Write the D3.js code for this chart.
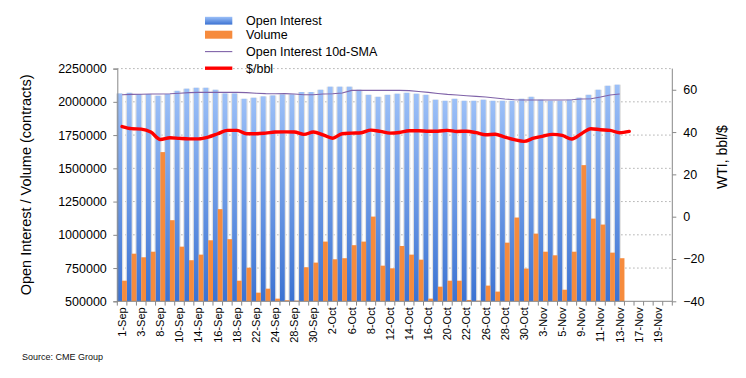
<!DOCTYPE html>
<html>
<head>
<meta charset="utf-8">
<script src="https://cdn.jsdelivr.net/npm/d3@7"></script>
<style>
  html, body { margin: 0; padding: 0; background: #fff; }
  svg { display: block; font-family: "Liberation Sans", Arial, sans-serif; }
</style>
</head>
<body>
<svg id="chart" width="746" height="378"></svg>
<script>
// ---------- DATA ----------
const categories = [
  "1-Sep","2-Sep","3-Sep","4-Sep","8-Sep","9-Sep","10-Sep","11-Sep","14-Sep","15-Sep",
  "16-Sep","17-Sep","18-Sep","21-Sep","22-Sep","23-Sep","24-Sep","25-Sep","28-Sep","29-Sep",
  "30-Sep","1-Oct","2-Oct","5-Oct","6-Oct","7-Oct","8-Oct","9-Oct","12-Oct","13-Oct",
  "14-Oct","15-Oct","16-Oct","19-Oct","20-Oct","21-Oct","22-Oct","23-Oct","26-Oct","27-Oct",
  "28-Oct","29-Oct","30-Oct","2-Nov","3-Nov","4-Nov","5-Nov","6-Nov","9-Nov","10-Nov",
  "11-Nov","12-Nov","13-Nov","16-Nov","17-Nov","18-Nov","19-Nov","20-Nov"
];
const openInterest = [
  2063000,2068000,2059000,2059000,2046000,2059000,2083000,2099000,2106000,2106000,
  2091000,2063000,2063000,2023000,2031000,2041000,2048000,2056000,2056000,2074000,
  2074000,2091000,2114000,2114000,2114000,2091000,2053000,2038000,2053000,2061000,
  2068000,2061000,2053000,2016000,2008000,2023000,2008000,2008000,2016000,2008000,
  2008000,2008000,2023000,2038000,2016000,2008000,2008000,2016000,2031000,2053000,
  2091000,2121000,2129000
];
const volume = [
  655000,858000,831000,873000,1622000,1110000,911000,809000,851000,959000,
  1193000,967000,655000,753000,565000,595000,520000,508000,505000,756000,
  791000,949000,816000,824000,922000,949000,1137000,768000,748000,916000,
  851000,813000,520000,610000,655000,655000,510000,505000,618000,573000,
  941000,1130000,746000,1009000,873000,846000,587000,873000,1524000,1122000,
  1077000,866000,824000
];
const oiSMA10 = [
  2053000,2056000,2057000,2059000,2059000,2061000,2065000,2069000,2071000,2071000,
  2071000,2071000,2071000,2069000,2065000,2062000,2061000,2062000,2059000,2053000,
  2053000,2059000,2061000,2066000,2086000,2086000,2086000,2086000,2086000,2086000,
  2084000,2078000,2071000,2063000,2056000,2051000,2046000,2041000,2036000,2029000,
  2021000,2016000,2014000,2014000,2014000,2014000,2014000,2016000,2021000,2023000,
  2036000,2051000,2059000
];
const wti = [
  42.6,41.6,41.4,40.0,36.5,37.3,37.0,36.8,36.8,37.6,
  39.2,40.8,40.8,39.2,39.2,39.5,40.0,40.1,40.0,38.9,
  40.0,38.7,37.1,39.2,39.5,39.7,40.9,40.3,39.5,39.8,
  40.6,40.6,40.4,40.4,40.8,40.3,40.4,39.7,38.7,39.0,
  37.6,36.4,35.6,37.1,38.1,38.9,38.4,36.7,39.2,41.6,
  41.1,40.8,39.7,40.3
];
const leftTicks = [500000,750000,1000000,1250000,1500000,1750000,2000000,2250000];
const rightTicks = [-40,-20,0,20,40,60];
const seriesNames = ["Open Interest","Volume","Open Interest 10d-SMA","$/bbl"];
const leftTitle = "Open Interest / Volume (contracts)";
const rightTitle = "WTI, bbl/$";
const sourceText = "Source: CME Group";

// ---------- LAYOUT ----------
const L = 117.3, R = 672.3, T = 68.6, B = 301.3;
const svg = d3.select("#chart");
const FONT = "Liberation Sans, Arial, sans-serif";

const x = d3.scaleBand().domain(categories).range([L, R]).padding(0);
const yL = d3.scaleLinear().domain([500000, 2250000]).range([B, T]);
const yR = d3.scaleLinear().domain([-40, 70]).range([B, T]);
const bw = x.bandwidth();

const defs = svg.append("defs");
const grad = defs.append("linearGradient").attr("id","blueGrad")
  .attr("x1",0).attr("y1",0).attr("x2",0).attr("y2",1);
grad.append("stop").attr("offset","0%").attr("stop-color","#9cc0f8");
grad.append("stop").attr("offset","100%").attr("stop-color","#3b72d2");

// gridlines
svg.append("g").selectAll("line").data(leftTicks.slice(1)).join("line")
  .attr("x1", L).attr("x2", R)
  .attr("y1", d => yL(d)).attr("y2", d => yL(d))
  .attr("stroke", "#9a9a9a").attr("stroke-width", 1)
  .attr("stroke-dasharray", "1.2,2.8");

// bar halos
const oiIdx = openInterest.map((v,i)=>i);
svg.append("g").selectAll("rect").data(oiIdx).join("rect")
  .attr("x", i => x(categories[i]) - 1.2)
  .attr("width", bw*0.5 + 2.4)
  .attr("y", i => yL(openInterest[i]))
  .attr("height", i => B - yL(openInterest[i]))
  .attr("fill", "#e2e2e2");

// open interest bars
svg.append("g").selectAll("rect").data(oiIdx).join("rect")
  .attr("x", i => x(categories[i]))
  .attr("width", bw*0.5)
  .attr("y", i => yL(openInterest[i]))
  .attr("height", i => B - yL(openInterest[i]))
  .attr("fill", "url(#blueGrad)");

// volume bars
svg.append("g").selectAll("rect").data(volume.map((v,i)=>i)).join("rect")
  .attr("x", i => x(categories[i]) + bw*0.5)
  .attr("width", bw*0.5)
  .attr("y", i => yL(Math.max(volume[i], 500000)))
  .attr("height", i => B - yL(Math.max(volume[i], 500000)))
  .attr("fill", "#f68b3d");

// SMA line
const smaLine = d3.line()
  .x((d,i) => x(categories[i]) + bw/2)
  .y(d => yL(d));
svg.append("path").datum(oiSMA10)
  .attr("d", smaLine).attr("fill","none")
  .attr("stroke","#7f62a8").attr("stroke-width",1.1);

// WTI line
const wtiLine = d3.line()
  .x((d,i) => x(categories[i]) + bw/2)
  .y(d => yR(d))
  .curve(d3.curveMonotoneX);
svg.append("path").datum(wti)
  .attr("d", wtiLine).attr("fill","none")
  .attr("stroke","#ff0000").attr("stroke-width",3.4)
  .attr("stroke-linejoin","round").attr("stroke-linecap","round");

// left axis
const axL = svg.append("g").attr("transform", `translate(${L},0)`)
  .call(d3.axisLeft(yL).tickValues(leftTicks).tickFormat(d3.format("d")).tickSizeOuter(0).tickSize(4).tickPadding(6.5));
axL.select(".domain").attr("stroke","#888");
axL.selectAll(".tick line").attr("stroke","#888");
axL.selectAll("text").attr("font-size","12.5px").attr("font-family",FONT).attr("fill","#000");

// right axis
const axR = svg.append("g").attr("transform", `translate(${R},0)`)
  .call(d3.axisRight(yR).tickValues(rightTicks).tickSizeOuter(0).tickSize(4).tickPadding(7));
axR.select(".domain").attr("stroke","#888").attr("d", `M0,${B}V${T}`);
axR.selectAll(".tick line").attr("stroke","#888");
axR.selectAll("text").attr("font-size","12.5px").attr("font-family",FONT).attr("fill","#000");

// bottom axis: line + boundary ticks
const bottom = svg.append("g");
bottom.append("line").attr("x1",L).attr("x2",R).attr("y1",B).attr("y2",B).attr("stroke","#888");
const bounds = categories.map(c => x(c)).concat([R]);
bottom.selectAll("line.tk").data(bounds).join("line").attr("class","tk")
  .attr("x1", d=>d).attr("x2", d=>d).attr("y1", B).attr("y2", B+4.3).attr("stroke","#888");
bottom.selectAll("text").data(categories.filter((c,i)=> i%2===0)).join("text")
  .attr("transform", d => `translate(${x(d)+bw/2},${B+6}) rotate(-90)`)
  .attr("text-anchor","end").attr("dy","0.35em")
  .attr("font-size","11px").attr("font-family",FONT).attr("fill","#000")
  .text(d => d);

// axis titles
svg.append("text").attr("transform", `translate(30.5,${(T+B)/2}) rotate(-90)`)
  .attr("text-anchor","middle").attr("font-size","14.5px").attr("font-family",FONT)
  .attr("fill","#000").text(leftTitle);
svg.append("text").attr("transform", `translate(726.5,157) rotate(-90)`)
  .attr("text-anchor","middle").attr("font-size","14px").attr("font-family",FONT)
  .attr("fill","#000").text(rightTitle);

// legend
const lg = svg.append("g");
const lx = 205, lw = 27.3, tx = 246;
const rowsY = [20.6, 34.7, 51.6, 68.2];
lg.append("rect").attr("x",lx).attr("y",rowsY[0]-3.8).attr("width",lw).attr("height",7.8).attr("fill","url(#blueGrad)");
lg.append("rect").attr("x",lx).attr("y",rowsY[1]-4).attr("width",lw).attr("height",8).attr("fill","#f68b3d");
lg.append("line").attr("x1",lx).attr("x2",lx+lw).attr("y1",rowsY[2]).attr("y2",rowsY[2]).attr("stroke","#7f62a8").attr("stroke-width",1.1);
lg.append("line").attr("x1",lx).attr("x2",lx+lw).attr("y1",rowsY[3]).attr("y2",rowsY[3]).attr("stroke","#ff0000").attr("stroke-width",3.4);
lg.selectAll("text").data(seriesNames).join("text")
  .attr("x", tx).attr("y", (d,i)=>rowsY[i]).attr("dy","0.36em")
  .attr("font-size","12.5px").attr("font-family",FONT).attr("fill","#000")
  .text(d=>d);

// source
svg.append("text").attr("x",22).attr("y",360).attr("font-size","9px")
  .attr("font-family",FONT).attr("fill","#111").text(sourceText);
</script>
</body>
</html>
